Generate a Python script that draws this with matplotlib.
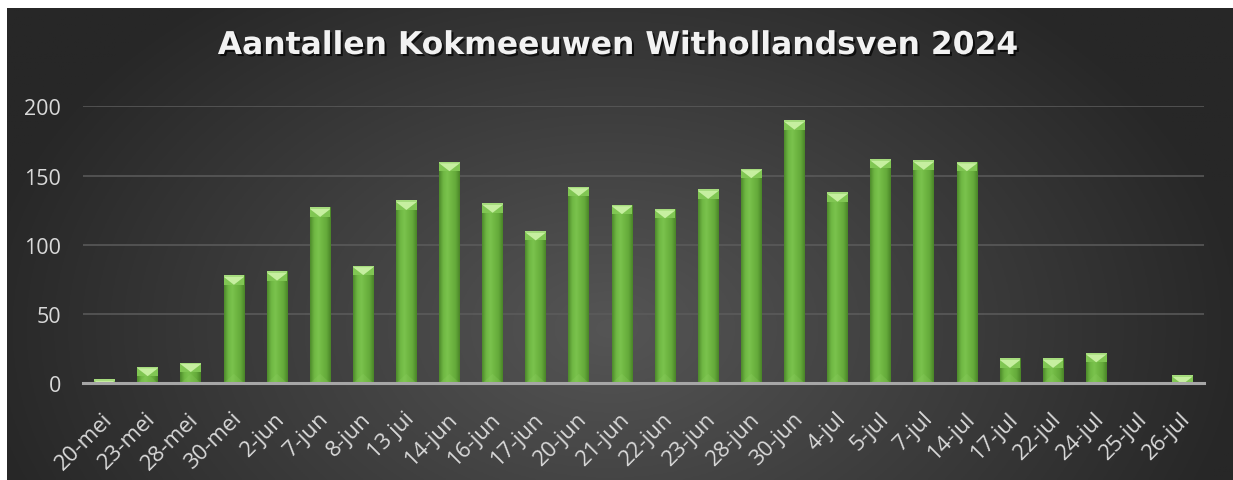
import numpy as np
import matplotlib
matplotlib.use("Agg")
import matplotlib.pyplot as plt
from matplotlib.colors import LinearSegmentedColormap, to_rgb
from matplotlib.patches import Polygon
from matplotlib.transforms import ScaledTranslation
import matplotlib.patheffects as pe

# ---- data ----
dates = ["20-mei", "23-mei", "28-mei", "30-mei", "2-jun", "7-jun", "8-jun", "13 jui",
         "14-jun", "16-jun", "17-jun", "20-jun", "21-jun", "22-jun", "23-jun", "28-jun",
         "30-jun", "4-jul", "5-jul", "7-jul", "14-jul", "17-jul", "22-jul", "24-jul",
         "25-jul", "26-jul"]
counts = [3, 12, 15, 78, 81, 127, 85, 132, 160, 130, 110, 142, 129, 126, 140, 155,
          190, 138, 162, 161, 160, 18, 18, 22, 0, 6]
yticks = [0, 50, 100, 150, 200]
title = "Aantallen Kokmeeuwen Withollandsven 2024"

W, H = 1233, 481
fig = plt.figure(figsize=(W / 100, H / 100), dpi=100, facecolor="white")

# ---- background (dark radial gradient) ----
bg = fig.add_axes([7 / W, 0, 1 - 7 / W, 1 - 9 / H])
bg.set_axis_off()
ny, nx = 240, 600
yy, xx = np.mgrid[0:ny, 0:nx]
px = xx / (nx - 1) * (W - 7) + 7
py = yy / (ny - 1) * (H - 9) + 9
t = np.sqrt(((px - 610) / 640.0) ** 2 + ((py - 330) / 430.0) ** 2)
t = np.clip(t, 0, 1)
c_in = np.array(to_rgb("#555555"))
c_out = np.array(to_rgb("#272727"))
img = c_in[None, None, :] * (1 - t[..., None]) + c_out[None, None, :] * t[..., None]
bg.imshow(img, extent=[0, 1, 0, 1], aspect="auto", origin="upper")
bg.set_xlim(0, 1)
bg.set_ylim(0, 1)

# ---- main axes ----
ax = fig.add_axes([83 / W, 1 - 384.3 / H, (1204 - 83) / W, (384.3 - 107.3) / H])
ax.set_facecolor("none")
x = np.arange(len(dates))
bw = 0.48
bars = ax.bar(x, counts, width=bw, color="#6cb33f", zorder=3, linewidth=0)

ax.set_xlim(-0.5, len(dates) - 0.5)
ax.set_ylim(0, 200)

body_cmap = LinearSegmentedColormap.from_list(
    "body", ["#4d8a2b", "#6fb743", "#7ac34d", "#6fb642", "#64aa3a", "#4a8528"])
grad = np.linspace(0, 1, 64)[None, :]
px_per_unit = (384.3 - 107.3) / 200.0
u = 1.0 / px_per_unit      # one pixel in data units
d = 9.5 * u                # bevel depth
for b in bars:
    x0 = b.get_x()
    w = b.get_width()
    h = b.get_height()
    if h <= 0:
        continue
    x1 = x0 + w
    xc = x0 + w / 2
    im = ax.imshow(grad, cmap=body_cmap, extent=[x0, x1, 0, h],
                   aspect="auto", zorder=3.1, interpolation="bilinear")
    im.set_clip_path(b)
    # bottom subtle bevel
    bot = Polygon([(x0, 0), (x1, 0), (xc, d)], closed=True,
                  facecolor="#8fd063", alpha=0.25, edgecolor="none", zorder=3.2)
    ax.add_patch(bot)
    bot.set_clip_path(b)
    # side facets of top bevel
    sides = Polygon([(x0, h), (x1, h), (x1, h - d), (x0, h - d)], closed=True,
                    facecolor="#80c653", edgecolor="none", zorder=3.25)
    ax.add_patch(sides)
    sides.set_clip_path(b)
    # light inverted triangle
    tri = Polygon([(x0, h - 1.5 * u), (x1, h - 1.5 * u), (xc, h - d)], closed=True,
                  facecolor="#c6efa0", edgecolor="none", zorder=3.4)
    ax.add_patch(tri)
    tri.set_clip_path(b)
    # thin top rim
    rim = Polygon([(x0, h), (x1, h), (x1, h - 1.5 * u), (x0, h - 1.5 * u)], closed=True,
                  facecolor="#a6dc7e", edgecolor="none", zorder=3.45)
    ax.add_patch(rim)
    rim.set_clip_path(b)

ax.set_yticks(yticks)
ax.set_yticklabels([str(v) for v in yticks])
ax.set_xticks(x)
ax.set_xticklabels(dates)
ax.grid(axis="y", color="#5c5c5c", linewidth=1.1, zorder=1)
ax.set_axisbelow(True)
for s in ["top", "right", "left"]:
    ax.spines[s].set_visible(False)
ax.spines["bottom"].set_color("#a6a6a6")
ax.spines["bottom"].set_linewidth(2.2)
ax.spines["bottom"].set_zorder(4)

ax.tick_params(axis="both", length=0)
ax.tick_params(axis="y", pad=16, labelsize=15.5, labelcolor="#d9d9d9")
ax.tick_params(axis="x", pad=0, labelsize=16, labelcolor="#d9d9d9")
for lab in ax.get_yticklabels():
    lab.set_fontfamily("Open Sans")
off = ScaledTranslation(5 / 100, -32 / 100, fig.dpi_scale_trans)
for lab in ax.get_xticklabels():
    lab.set_fontfamily("Open Sans")
    lab.set_rotation(45)
    lab.set_rotation_mode("anchor")
    lab.set_ha("right")
    lab.set_va("center")
    lab.set_transform(lab.get_transform() + off)

fig.text(618 / W, 1 - 55 / H, title, ha="center", va="baseline",
         fontsize=22.6, fontweight="bold", fontfamily="DejaVu Sans", color="#f2f2f2",
         path_effects=[pe.withSimplePatchShadow(offset=(1.5, -1.5), shadow_rgbFace="black",
                                                 alpha=0.7)])

fig.savefig("out.png", dpi=100, facecolor="white")
